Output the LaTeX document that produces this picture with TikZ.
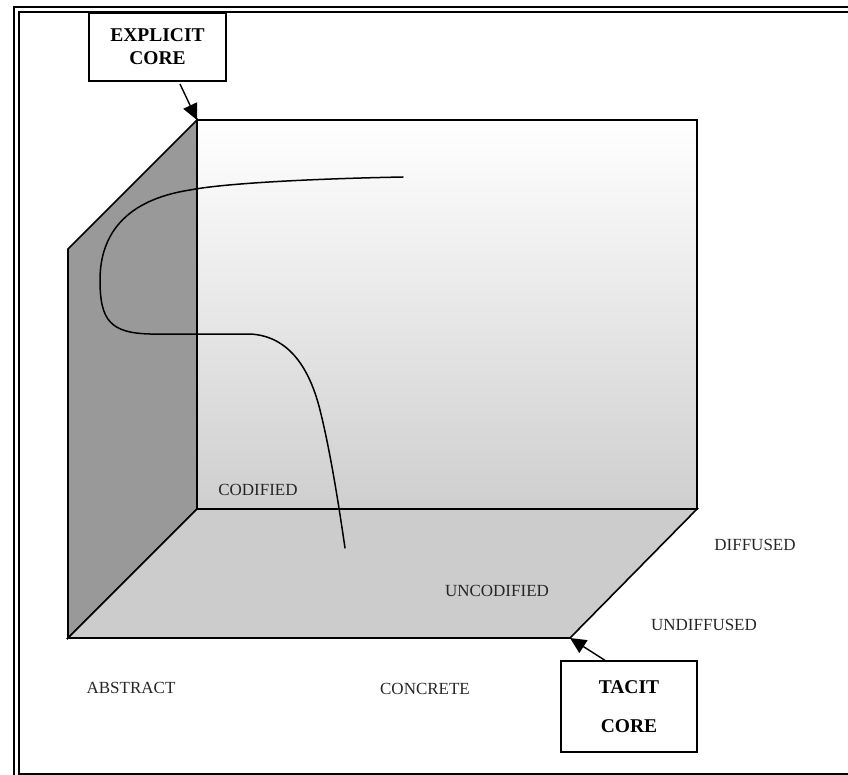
\documentclass[tikz,border=0pt]{standalone}
\usepackage{fontspec}
\setmainfont{Liberation Serif}
\usetikzlibrary{arrows.meta}
\begin{document}
\begin{tikzpicture}[x=1pt,y=-1pt,
  edge/.style={line width=1.6pt,line join=miter},
  axislabel/.style={font=\fontsize{17}{20}\selectfont,text=black!85,inner sep=0pt},
  corebox/.style={draw,line width=1.6pt,fill=white,align=center,inner sep=0pt,
    font=\fontsize{19.5}{23}\selectfont\bfseries},
  pointer/.style={line width=1.4pt,-{Triangle[length=16pt,width=15pt]}}]
\useasboundingbox (0,0) rectangle (848,775);
\begin{scope}
\clip (0,0) rectangle (848,775);
% double frame, running off the right and bottom edges
\draw[line width=2pt] (14,7) rectangle (860,790);
\draw[line width=2pt] (19,12) rectangle (855,774);
\end{scope}

% corner points of the box
\coordinate (bl) at (68,638);
\coordinate (br) at (570,638);
\coordinate (tl) at (68,249);
\coordinate (bbl) at (197,509);
\coordinate (bbr) at (697,509);
\coordinate (btl) at (197,120);
\coordinate (btr) at (697,120);

% back face with vertical shading
\shade[top color=white,bottom color=black!19] (btl) rectangle (bbr);
\draw[edge] (bbl) -- (btl) -- (btr) -- (bbr) -- cycle;
% left face
\filldraw[edge,fill=black!40] (bl) -- (tl) -- (btl) -- (bbl) -- cycle;
% floor
\filldraw[edge,fill=black!20] (bl) -- (bbl) -- (bbr) -- (br) -- cycle;

% knowledge path
\draw[line width=1.5pt,line cap=round]
  (403,177) .. controls (300,179) and (220,184) .. (190,190)
            .. controls (125,200) and (100,235) .. (100,280)
            .. controls (100,320) and (110,333) .. (150,334)
            .. controls (200,334) and (230,334) .. (250,334)
            .. controls (290,336) and (310,370) .. (320,410)
            .. controls (330,450) and (338,500) .. (345,548);

% axis labels
\node[axislabel] (codified) at (258,490) {CODIFIED};
\node[axislabel] (uncodified) at (497,591) {UNCODIFIED};
\node[axislabel] (diffused) at (755,545) {DIFFUSED};
\node[axislabel] (undiffused) at (704,625) {UNDIFFUSED};
\node[axislabel] (abstract) at (131,688) {ABSTRACT};
\node[axislabel] (concrete) at (425,689) {CONCRETE};

% core boxes and their pointers
\node[corebox,minimum width=137pt,minimum height=68pt] (explicit) at (157.5,47)
  {EXPLICIT\\CORE};
\node[corebox,minimum width=136pt,minimum height=91pt,
  font=\fontsize{19.5}{39}\selectfont\bfseries] (tacit) at (629,706.5)
  {TACIT\\CORE};
\coordinate (explicittail) at (180,84);
\coordinate (tacittail) at (606,661);
\draw[pointer] (explicittail) -- (btl);
\draw[pointer] (tacittail) -- (br);
\end{tikzpicture}
\end{document}
